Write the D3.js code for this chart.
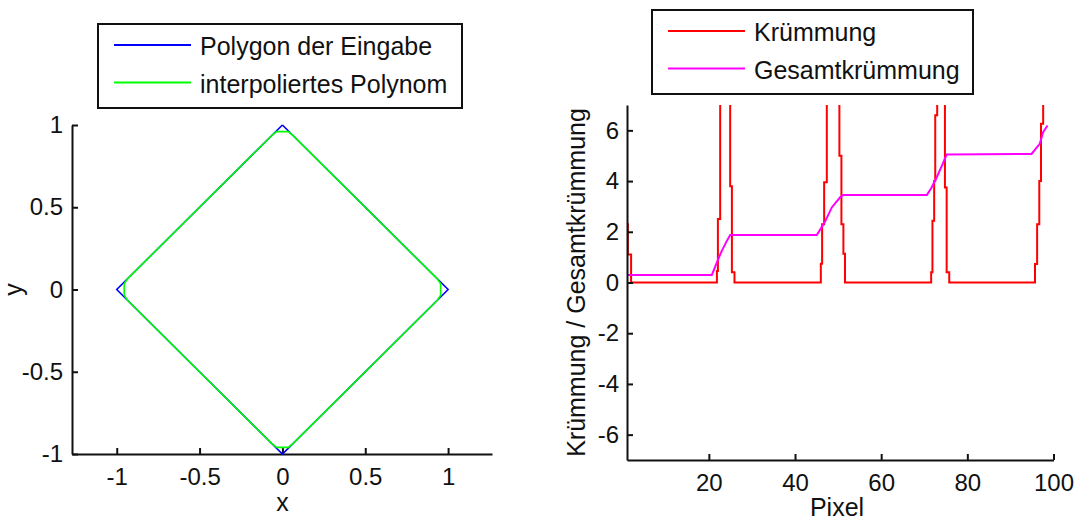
<!DOCTYPE html>
<html>
<head>
<meta charset="utf-8">
<script src="https://cdn.jsdelivr.net/npm/d3@7"></script>
<style>
  body { margin: 0; background: #fff; }
  text { font-family: Arial, "Liberation Sans", sans-serif; fill: #111; }
</style>
</head>
<body>
<script>
// left plot: input polygon and interpolated curve
var polyX = [0, 1, 0, -1, 0];
var polyY = [1, 0, -1, 0, 1];
var interpX = [-0.065, -0.035, 0.035, 0.065, 0.935, 0.955, 0.955, 0.935, 0.065, 0.035, -0.035, -0.065, -0.935, -0.955, -0.955, -0.935, -0.065];
var interpY = [0.935, 0.96, 0.96, 0.935, 0.065, 0.035, -0.035, -0.065, -0.935, -0.96, -0.96, -0.935, -0.065, -0.035, 0.035, 0.065, 0.935];
var leftXTicks = [-1, -0.5, 0, 0.5, 1];
var leftYTicks = [-1, -0.5, 0, 0.5, 1];

// right plot: curvature (value changes at x) and total curvature
var kruemX = [1, 1.2, 1.95, 21.87, 22.1, 22.63, 24.95, 25.35, 25.95, 45.99, 46.29, 46.76, 47.38, 50.3, 50.77, 51.23, 51.6, 71.6, 71.9, 72.3, 72.55, 73.0, 74.8, 75.2, 75.8, 95.7, 96.2, 96.7, 97.1, 97.6];
var kruemY = [2.3, 1.1, 0, 0.45, 2.5, 9, 3.8, 0.4, 0, 0.74, 2.3, 3.95, 9, 5.0, 2.3, 1.13, 0, 0.4, 2.44, 4.0, 6.6, 9, 3.75, 0.4, 0, 0.73, 2.3, 4.0, 6.26, 9];
var gesamtX = [1, 20.7, 21.87, 23.0, 24.2, 24.95, 45.06, 46.98, 48.54, 50.46, 51.2, 70.6, 71.7, 72.9, 74.1, 75.2, 94.9, 96.8, 97.6, 98.6];
var gesamtY = [0.3, 0.3, 0.79, 1.25, 1.65, 1.87, 1.87, 2.4, 2.96, 3.36, 3.45, 3.45, 3.75, 4.15, 4.61, 5.05, 5.07, 5.47, 5.93, 6.19];
var rightXTicks = [20, 40, 60, 80, 100];
var rightYTicks = [-6, -4, -2, 0, 2, 4, 6];

var svg = d3.select('body')
  .append('svg')
  .attr('width', 1079)
  .attr('height', 521);

// plain hyphen minus like the original
var fmt = function(d) { return String(d); };

function drawAxes(x, y, xTicks, yTicks, yPad) {
  var g = svg.append('g');
  g.append('g')
    .attr('transform', 'translate(0,' + y.range()[0] + ')')
    .call(d3.axisBottom(x).tickValues(xTicks).tickFormat(fmt).tickSizeInner(-6).tickSizeOuter(0).tickPadding(14));
  g.append('g')
    .attr('transform', 'translate(' + x.range()[0] + ',0)')
    .call(d3.axisLeft(y).tickValues(yTicks).tickFormat(fmt).tickSizeInner(-6).tickSizeOuter(0).tickPadding(yPad));
  g.selectAll('.domain').attr('stroke', '#111').attr('stroke-width', 2);
  g.selectAll('.tick line').attr('stroke', '#111').attr('stroke-width', 2);
  g.selectAll('.tick text').style('font-size', '24px').attr('fill', '#111');
  return g;
}

function legend(x0, y0, w, h, items) {
  var lg = svg.append('g');
  lg.append('rect')
    .attr('x', x0).attr('y', y0).attr('width', w).attr('height', h)
    .attr('fill', '#fff').attr('stroke', '#111').attr('stroke-width', 2);
  items.forEach(function(d, i) {
    var ly = y0 + 21 + i * 37.5;
    lg.append('line')
      .attr('x1', x0 + 16).attr('x2', x0 + 93)
      .attr('y1', ly).attr('y2', ly)
      .attr('stroke', d.color).attr('stroke-width', 2);
    lg.append('text')
      .attr('x', x0 + 102).attr('y', ly + 10)
      .style('font-size', '25px')
      .text(d.name);
  });
}

// ---- left plot
var xL = d3.scaleLinear().domain([-1.27, 1.265]).range([72, 492]);
var yL = d3.scaleLinear().domain([-1, 1]).range([454, 125]);
drawAxes(xL, yL, leftXTicks, leftYTicks, 9);

var lineL = d3.line()
  .x(function(d) { return xL(d[0]); })
  .y(function(d) { return yL(d[1]); });

svg.append('path')
  .datum(d3.zip(polyX, polyY))
  .attr('d', lineL)
  .attr('fill', 'none').attr('stroke', '#0000ff').attr('stroke-width', 1.6);
svg.append('path')
  .datum(d3.zip(interpX, interpY))
  .attr('d', lineL)
  .attr('fill', 'none').attr('stroke', '#00ff00').attr('stroke-width', 1.6);

svg.append('text')
  .attr('x', xL(0)).attr('y', 511)
  .attr('text-anchor', 'middle')
  .style('font-size', '25px')
  .text('x');
svg.append('text')
  .attr('transform', 'translate(22,' + yL(0) + ') rotate(-90)')
  .attr('text-anchor', 'middle')
  .style('font-size', '25px')
  .text('y');

legend(98, 24, 364, 84, [
  { name: 'Polygon der Eingabe', color: '#0000ff' },
  { name: 'interpoliertes Polynom', color: '#00ff00' }
]);

// ---- right plot
var xR = d3.scaleLinear().domain([1, 100]).range([627, 1053.5]);
var yR = d3.scaleLinear().domain([-7, 7]).range([460, 105]);

svg.append('clipPath').attr('id', 'clipR')
  .append('rect')
  .attr('x', xR(1)).attr('y', yR(7))
  .attr('width', xR(100) - xR(1)).attr('height', yR(-7) - yR(7));

var plotR = svg.append('g').attr('clip-path', 'url(#clipR)');

plotR.append('path')
  .datum(d3.zip(kruemX, kruemY))
  .attr('d', d3.line().curve(d3.curveStepAfter)
    .x(function(d) { return xR(d[0]); })
    .y(function(d) { return yR(d[1]); }))
  .attr('fill', 'none').attr('stroke', '#ff0000').attr('stroke-width', 2);

plotR.append('path')
  .datum(d3.zip(gesamtX, gesamtY))
  .attr('d', d3.line()
    .x(function(d) { return xR(d[0]); })
    .y(function(d) { return yR(d[1]); }))
  .attr('fill', 'none').attr('stroke', '#ff00ff').attr('stroke-width', 2);

drawAxes(xR, yR, rightXTicks, rightYTicks, 8);

svg.append('text')
  .attr('x', 837).attr('y', 516)
  .attr('text-anchor', 'middle')
  .style('font-size', '25px')
  .text('Pixel');
svg.append('text')
  .attr('transform', 'translate(585,' + ((yR(7) + yR(-7)) / 2) + ') rotate(-90)')
  .attr('text-anchor', 'middle')
  .style('font-size', '25px')
  .text('Krümmung / Gesamtkrümmung');

legend(652, 10, 321, 84, [
  { name: 'Krümmung', color: '#ff0000' },
  { name: 'Gesamtkrümmung', color: '#ff00ff' }
]);
</script>
</body>
</html>
